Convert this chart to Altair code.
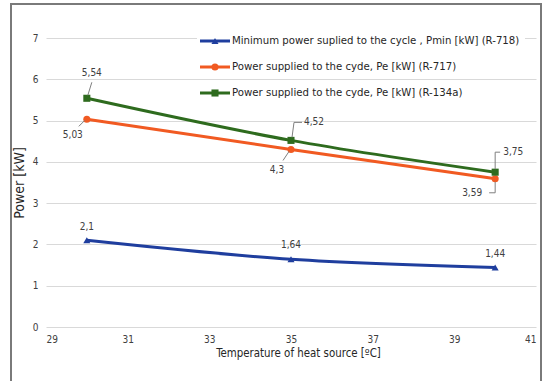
import altair as alt
import pandas as pd

# ---- data ----
temperature = [30, 35, 40]
pmin_r718 = [2.1, 1.64, 1.44]
pe_r717 = [5.03, 4.3, 3.59]
pe_r134a = [5.54, 4.52, 3.75]
series_names = [
    "Minimum power suplied to the cycle , Pmin [kW] (R-718)",
    "Power supplied to the cyde, Pe [kW] (R-717)",
    "Power supplied to the cyde, Pe [kW] (R-134a)",
]
series_values = [pmin_r718, pe_r717, pe_r134a]
x_ticks = [29, 31, 33, 35, 37, 39, 41]
y_ticks = [0, 1, 2, 3, 4, 5, 6, 7]

colors = ["#1f3e9e", "#f15a22", "#2e6b1e"]
shapes = ["triangle-up", "circle", "square"]
FONT = "Liberation Sans Narrow, DejaVu Sans Condensed, Liberation Sans, sans-serif"

rows = []
for si, (name, vals) in enumerate(zip(series_names, series_values)):
    for pi, (t, v) in enumerate(zip(temperature, vals)):
        rows.append({"series": name, "temp": t, "power": v,
                     "label": str(v).replace(".", ","), "si": si, "pi": pi})
df = pd.DataFrame(rows)

xs = alt.Scale(domain=[29, 41], nice=False, zero=False)
ys = alt.Scale(domain=[0, 7], nice=False)
X = alt.X("temp:Q", scale=xs, axis=alt.Axis(
    values=x_ticks, title="Temperature of heat source [ºC]", grid=False,
    ticks=False, domain=False, labelPadding=7, labelFontSize=10,
    labelColor="#404040", titleFontSize=11.4, titleFontWeight="normal",
    titleColor="#262626", titlePadding=3, labelFont=FONT, titleFont=FONT,
    titleX=252, titleAlign="center"))
Y = alt.Y("power:Q", scale=ys, axis=alt.Axis(
    values=y_ticks, title="Power [kW]", grid=True, gridColor="#d9d9d9",
    ticks=False, domain=False, labelPadding=8, labelFontSize=10,
    labelColor="#404040", titleFontSize=14, titleFontWeight="normal",
    titleColor="#262626", titlePadding=6, labelFont=FONT, titleFont=FONT))
color = alt.Color("series:N", scale=alt.Scale(domain=series_names, range=colors), legend=None)
shape = alt.Shape("series:N", scale=alt.Scale(domain=series_names, range=shapes), legend=None)

one = pd.DataFrame({"a": [0]})

frame = alt.Chart(one).mark_rect(fillOpacity=0, stroke="#7a7a7a", strokeWidth=2).encode(
    x=alt.value(-35), x2=alt.value(495), y=alt.value(-34), y2=alt.value(360))

base = alt.Chart(df)
lines = base.mark_line(interpolate="monotone", strokeWidth=3).encode(x=X, y=Y, color=color, detail="series:N")
points = base.mark_point(filled=True, size=50, opacity=1).encode(x=X, y=Y, color=color, shape=shape)

layers = [frame, lines, points]

# data labels: (series idx, point idx) -> (dx, dy, align, leader segments)
label_style = {
    (0, 0): (0, -13, "center", []),
    (0, 1): (0, -14, "center", []),
    (0, 2): (0, -14, "center", []),
    (1, 0): (-14, 16, "center", [(-2, 1, -8, 7)]),
    (1, 1): (-14, 21, "center", [(-2, 2, -8, 11)]),
    (1, 2): (-13, 14, "right", [(0, 3, 0, 14), (0, 14, -6, 14)]),
    (2, 0): (5, -25, "center", [(1, -3, 5, -16)]),
    (2, 1): (13, -18, "left", [(1, -3, 3, -18), (3, -18, 11, -18)]),
    (2, 2): (8, -20, "left", [(0, -3, 0, -20), (0, -20, 5, -20)]),
}
for (si, pi), (dx, dy, align, segs) in label_style.items():
    sub = df[(df.si == si) & (df.pi == pi)]
    c = alt.Chart(sub)
    layers.append(c.mark_text(dx=dx, dy=dy, align=align, baseline="middle", fontSize=10,
                              color="#404040", font=FONT).encode(x=X, y=Y, text="label:N"))
    for (x1, y1, x2, y2) in segs:
        layers.append(c.mark_rule(color="#7f7f7f", strokeWidth=1, xOffset=x1, yOffset=y1,
                                  x2Offset=x2, y2Offset=y2).encode(
            x=X, y=Y, x2="temp:Q", y2="power:Q"))

# legend
layers.append(alt.Chart(one).mark_rect(color="white").encode(
    x=alt.value(151), x2=alt.value(479), y=alt.value(-8), y2=alt.value(14)))
leg_y = [3, 29, 55]
for i, name in enumerate(series_names):
    ld = pd.DataFrame({"series": [name]})
    lc = alt.Chart(ld)
    layers.append(lc.mark_rule(strokeWidth=3, color=colors[i]).encode(
        x=alt.value(154), x2=alt.value(184), y=alt.value(leg_y[i])))
    layers.append(lc.mark_point(filled=True, size=50, opacity=1, shape=shapes[i], color=colors[i]).encode(
        x=alt.value(169), y=alt.value(leg_y[i])))
    layers.append(lc.mark_text(align="left", baseline="middle", fontSize=11.3, color="#262626",
                               font=FONT).encode(x=alt.value(186), y=alt.value(leg_y[i]), text="series:N"))

chart = alt.layer(*layers).properties(
    width=490, height=289,
    autosize=alt.AutoSizeParams(type="none"),
    padding={"left": 46, "top": 38, "right": 8, "bottom": 54},
    background="white",
).configure_view(stroke=None)

chart.save("out.html", embed_options={"renderer": "svg", "actions": False})
